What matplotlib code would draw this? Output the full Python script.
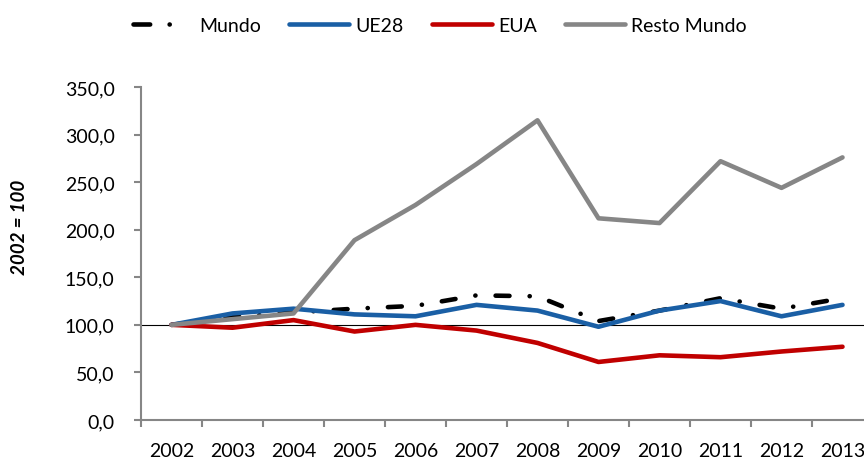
import matplotlib
matplotlib.use("Agg")
import matplotlib.pyplot as plt
from matplotlib.ticker import FixedLocator, FuncFormatter
from matplotlib.lines import Line2D
import numpy as np

years = ["2002", "2003", "2004", "2005", "2006", "2007", "2008", "2009", "2010", "2011", "2012", "2013"]
mundo = [100, 108, 113, 117, 120, 131, 130, 104, 115, 128, 117, 128]
ue28 = [100, 112, 117, 111, 109, 121, 115, 98, 115, 125, 109, 121]
eua = [100, 97, 105, 93, 100, 94, 81, 61, 68, 66, 72, 77]
resto = [100, 106, 112, 189, 226, 269, 315, 212, 207, 272, 244, 276]
yticks = [0, 50, 100, 150, 200, 250, 300, 350]
ylabel = "2002 = 100"
names = ["Mundo", "UE28", "EUA", "Resto Mundo"]
colors = ["black", "#1A5FA5", "#C00000", "#868686"]

plt.rcParams['font.family'] = ['Lato', 'DejaVu Sans']
plt.rcParams['lines.scale_dashes'] = False

fig = plt.figure(figsize=(8.64, 4.60), dpi=100)
ax = fig.add_axes([141/864, 39/460, (873-141)/864, (421-88)/460])

x = np.arange(len(years))
ax.axhline(100, color='black', lw=0.8, zorder=1.5)

LW = 3.3
ax.plot(x, mundo, color=colors[0], lw=LW, dash_capstyle='round',
        linestyle=(0, (10, 14.5, 0.1, 14.5)))
ax.plot(x, ue28, color=colors[1], lw=LW, solid_capstyle='round')
ax.plot(x, eua, color=colors[2], lw=LW, solid_capstyle='round')
ax.plot(x, resto, color=colors[3], lw=LW, solid_capstyle='round')

ax.set_xlim(-0.5, len(years) - 0.5)
ax.set_ylim(0, 350)
ax.set_yticks(yticks)
ax.yaxis.set_major_formatter(FuncFormatter(lambda v, p: f"{v:.1f}".replace('.', ',')))

ax.xaxis.set_major_locator(FixedLocator(np.arange(-0.5, len(years), 1.0)))
ax.xaxis.set_major_formatter(FuncFormatter(lambda v, p: ""))
ax.xaxis.set_minor_locator(FixedLocator(x))
ax.set_xticklabels(years, minor=True)
ax.tick_params(axis='x', which='minor', length=0, pad=16, labelsize=14)
ax.tick_params(axis='x', which='major', length=5, width=1.5, color='#868686', direction='out')
ax.tick_params(axis='y', length=5, width=1.5, color='#868686', direction='out', pad=14, labelsize=14)

for s in ['top', 'right']:
    ax.spines[s].set_visible(False)
for s in ['left', 'bottom']:
    ax.spines[s].set_color('#868686')
    ax.spines[s].set_linewidth(1.5)

fig.text(20/864, 1 - 227/460, ylabel, rotation=90, ha='center', va='center',
         fontsize=13.5, fontweight='bold', fontstyle='italic')

handles = [
    Line2D([], [], color=colors[0], lw=LW, dash_capstyle='round', linestyle=(0, (12, 14, 0.1, 40))),
    Line2D([], [], color=colors[1], lw=LW, solid_capstyle='round'),
    Line2D([], [], color=colors[2], lw=LW, solid_capstyle='round'),
    Line2D([], [], color=colors[3], lw=LW, solid_capstyle='round'),
]
fig.legend(handles, names, loc='center', bbox_to_anchor=(0.509, 1 - 26/460), ncol=4, frameon=False,
           fontsize=14, handlelength=3.1, handletextpad=0.3, columnspacing=1.45)

fig.savefig("out.png", dpi=100)
